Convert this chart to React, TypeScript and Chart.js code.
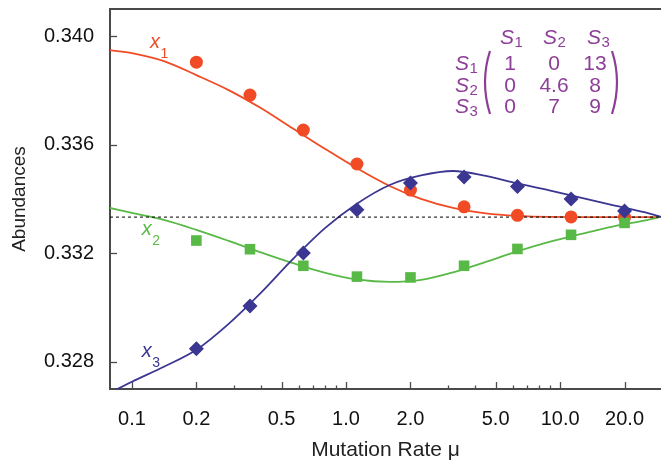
import React, { useEffect, useRef } from 'react';
import { Chart, registerables } from 'chart.js';

Chart.register(...registerables);

// ---------- data ----------
const muMin = 0.079;
const muMax = 29.6;
const yMin = 0.327;
const yMax = 0.341;
const equilibrium = 1 / 3;

const xMajorTicks = [0.1, 0.2, 0.5, 1, 2, 5, 10, 20];
const xMajorLabels = ['0.1', '0.2', '0.5', '1.0', '2.0', '5.0', '10.0', '20.0'];
const xMinorTicks = [0.3, 0.4, 0.6, 0.7, 0.8, 0.9, 3, 4, 6, 7, 8, 9];
const yTicks = [0.328, 0.332, 0.336, 0.34];
const yTickLabels = ['0.328', '0.332', '0.336', '0.340'];

// simulated points
const pointMu = [0.2, 0.356, 0.632, 1.125, 2.0, 3.56, 6.32, 11.25, 20];
const pointX1 = [0.33904, 0.33783, 0.33654, 0.33529, 0.33433, 0.33371, 0.33340, 0.33334, 0.33333];
const pointX2 = [0.33247, 0.33215, 0.33154, 0.33114, 0.33111, 0.33154, 0.33216, 0.33268, 0.33312];
const pointX3 = [0.32848, 0.33006, 0.33201, 0.33360, 0.33459, 0.33481, 0.33446, 0.33400, 0.33356];

// analytic curves
const curveMu = [0.079, 0.1, 0.141, 0.2, 0.283, 0.4, 0.56, 0.8, 1.12, 1.6, 2.24, 3.16, 4.5, 6.3, 8.9, 12.6, 17.8, 25, 29.6];
const curveX1 = [0.339485, 0.339374, 0.33908, 0.338565, 0.338013, 0.33735, 0.336614, 0.335842, 0.335142, 0.33448, 0.334002, 0.33367, 0.333468, 0.333376, 0.333339, 0.333334, 0.333333, 0.333333, 0.333333];
const curveX2 = [0.33367, 0.333486, 0.333229, 0.332861, 0.332456, 0.332033, 0.331646, 0.331278, 0.331039, 0.330947, 0.331021, 0.331297, 0.331683, 0.33207, 0.332419, 0.332714, 0.33299, 0.333211, 0.333339];
const curveX3 = [0.326862, 0.327267, 0.327819, 0.328445, 0.329402, 0.330542, 0.331757, 0.332934, 0.333818, 0.334517, 0.334867, 0.335032, 0.334848, 0.334572, 0.334314, 0.334038, 0.333762, 0.333505, 0.333339];

// ---------- styles ----------
const RED = '#F04B24';
const GREEN = '#59B947';
const BLUE = '#3B3691';
const PURPLE = '#8E3E98';
const AXIS = '#4a4a4a';
const FONT = '"Liberation Sans", Arial, Helvetica, sans-serif';

const toXY = (xs: number[], ys: number[]) => xs.map((x, i) => ({ x, y: ys[i] }));

function drawSub(ctx: CanvasRenderingContext2D, main: string, sub: string, x: number, y: number,
  mainFont: string, subFont: string, dy: number, color: string) {
  ctx.fillStyle = color;
  ctx.textAlign = 'left';
  ctx.textBaseline = 'alphabetic';
  ctx.font = mainFont;
  ctx.fillText(main, x, y);
  const w = ctx.measureText(main).width;
  ctx.font = subFont;
  ctx.fillText(sub, x + w + 0.5, y + dy);
}

const zeroPad = (s: any) => {
  s.paddingTop = 0;
  s.paddingBottom = 0;
  s.paddingLeft = 0;
  s.paddingRight = 0;
};

const decorPlugin = {
  id: 'decor',
  beforeDatasetsDraw(chart: any) {
    const { ctx, chartArea: a, scales } = chart;
    ctx.save();
    ctx.strokeStyle = AXIS;
    ctx.lineWidth = 2;
    ctx.beginPath();
    ctx.moveTo(a.left - 1, a.top);
    ctx.lineTo(a.right, a.top);
    ctx.stroke();
    ctx.lineWidth = 1.3;
    const xs = scales.x;
    const drawX = (v: number, len: number) => {
      const px = Math.round(xs.getPixelForValue(v)) + 0.5;
      ctx.beginPath();
      ctx.moveTo(px, a.bottom);
      ctx.lineTo(px, a.bottom - len);
      ctx.stroke();
    };
    xMajorTicks.forEach((v) => drawX(v, 7));
    xMinorTicks.forEach((v) => drawX(v, 3.5));
    const ys = scales.y;
    yTicks.forEach((v) => {
      const py = Math.round(ys.getPixelForValue(v)) + 0.5;
      ctx.beginPath();
      ctx.moveTo(a.left, py);
      ctx.lineTo(a.left + 7, py);
      ctx.stroke();
    });
    ctx.restore();
  },
  afterDraw(chart: any) {
    const { ctx, chartArea: a, scales } = chart;
    const xs = scales.x;
    const ys = scales.y;
    ctx.save();
    const lf = `italic 20px ${FONT}`;
    const sf = `14px ${FONT}`;
    drawSub(ctx, 'x', '1', xs.getPixelForValue(0.1214), ys.getPixelForValue(0.33956), lf, sf, 10, RED);
    drawSub(ctx, 'x', '2', xs.getPixelForValue(0.1113), ys.getPixelForValue(0.33268), lf, sf, 10, GREEN);
    drawSub(ctx, 'x', '3', xs.getPixelForValue(0.1113), ys.getPixelForValue(0.32819), lf, sf, 10, BLUE);

    // matrix
    const mx = a.right - 206;
    const my = a.top;
    const sF = `italic 21px ${FONT}`;
    const subF = `15px ${FONT}`;
    drawSub(ctx, 'S', '1', mx + 45, my + 35, sF, subF, 3, PURPLE);
    drawSub(ctx, 'S', '2', mx + 88, my + 35, sF, subF, 3, PURPLE);
    drawSub(ctx, 'S', '3', mx + 132, my + 35, sF, subF, 3, PURPLE);
    const rowY = [61, 83, 104];
    const cols = [55, 99, 140];
    const vals = [['1', '0', '13'], ['0', '4.6', '8'], ['0', '7', '9']];
    rowY.forEach((ry, r) => {
      drawSub(ctx, 'S', String(r + 1), mx, my + ry, sF, subF, 3, PURPLE);
      ctx.font = `21px ${FONT}`;
      ctx.textAlign = 'center';
      ctx.fillStyle = PURPLE;
      vals[r].forEach((t, c) => ctx.fillText(t, mx + cols[c], my + ry));
    });
    ctx.strokeStyle = PURPLE;
    ctx.lineWidth = 2.2;
    ctx.beginPath();
    ctx.moveTo(mx + 35, my + 42);
    ctx.quadraticCurveTo(mx + 25, my + 73, mx + 35, my + 105);
    ctx.stroke();
    ctx.beginPath();
    ctx.moveTo(mx + 157, my + 42);
    ctx.quadraticCurveTo(mx + 167, my + 73, mx + 157, my + 105);
    ctx.stroke();
    ctx.restore();
  },
};

export default function App() {
  const ref = useRef<HTMLCanvasElement | null>(null);

  useEffect(() => {
    if (!ref.current) return;
    const curve = (data: number[], color: string, order: number) => ({
      data: toXY(curveMu, data),
      showLine: true,
      borderColor: color,
      borderWidth: 1.8,
      pointRadius: 0,
      cubicInterpolationMode: 'monotone',
      order,
    });
    const marks = (data: number[], color: string, style: string, r: number, order: number) => ({
      data: toXY(pointMu, data),
      showLine: false,
      pointStyle: style,
      pointRadius: r,
      pointBackgroundColor: color,
      pointBorderColor: color,
      pointBorderWidth: 0,
      order,
    });
    const chart = new Chart(ref.current, {
      type: 'scatter',
      data: {
        datasets: [
          marks(pointX3, BLUE, 'rectRot', 7.5, 0),
          marks(pointX2, GREEN, 'rect', 7.5, 1),
          marks(pointX1, RED, 'circle', 6.5, 2),
          {
            data: [{ x: muMin, y: equilibrium }, { x: muMax, y: equilibrium }],
            showLine: true,
            borderColor: '#000',
            borderWidth: 1,
            borderDash: [3, 3],
            pointRadius: 0,
            order: 3,
          },
          curve(curveX3, BLUE, 4),
          curve(curveX2, GREEN, 5),
          curve(curveX1, RED, 6),
        ] as any,
      },
      options: {
        responsive: false,
        animation: false,
        layout: { autoPadding: false, padding: { top: 9, right: 0, left: 0, bottom: 0 } },
        plugins: { legend: { display: false }, tooltip: { enabled: false } },
        scales: {
          x: {
            type: 'logarithmic',
            min: muMin,
            max: muMax,
            afterBuildTicks: (s: any) => {
              s.ticks = [...xMajorTicks, ...xMinorTicks].sort((p, q) => p - q).map((v) => ({ value: v }));
            },
            afterFit: (s: any) => { s.height = 74; zeroPad(s); },
            grid: { display: false, drawTicks: false },
            border: { display: true, color: AXIS, width: 2 },
            ticks: {
              autoSkip: false,
              maxRotation: 0,
              padding: 18,
              color: '#111',
              font: { family: FONT, size: 20 },
              callback: (v: any) => {
                const i = xMajorTicks.findIndex((t) => Math.abs(t - Number(v)) < 1e-9);
                return i >= 0 ? xMajorLabels[i] : '';
              },
            },
            title: {
              display: true,
              text: 'Mutation Rate μ',
              color: '#222',
              font: { family: FONT, size: 21 },
              padding: { top: 0, bottom: 0 },
            },
          },
          y: {
            type: 'linear',
            min: yMin,
            max: yMax,
            afterBuildTicks: (s: any) => { s.ticks = yTicks.map((v) => ({ value: v })); },
            afterFit: (s: any) => { s.width = 110; zeroPad(s); },
            grid: { display: false, drawTicks: false },
            border: { display: true, color: AXIS, width: 2 },
            ticks: {
              padding: 16,
              color: '#111',
              font: { family: FONT, size: 20 },
              callback: (v: any) => {
                const i = yTicks.findIndex((t) => Math.abs(t - Number(v)) < 1e-9);
                return i >= 0 ? yTickLabels[i] : '';
              },
            },
            title: {
              display: true,
              text: 'Abundances',
              color: '#222',
              font: { family: FONT, size: 19 },
              padding: { top: 8, bottom: 0 },
            },
          },
        },
      } as any,
      plugins: [decorPlugin],
    });
    return () => chart.destroy();
  }, []);

  return (
    <div style={{ position: 'absolute', left: 0, top: 0, width: 661, height: 463, background: '#fff' }}>
      <canvas ref={ref} width={661} height={463} style={{ display: 'block' }} />
    </div>
  );
}
